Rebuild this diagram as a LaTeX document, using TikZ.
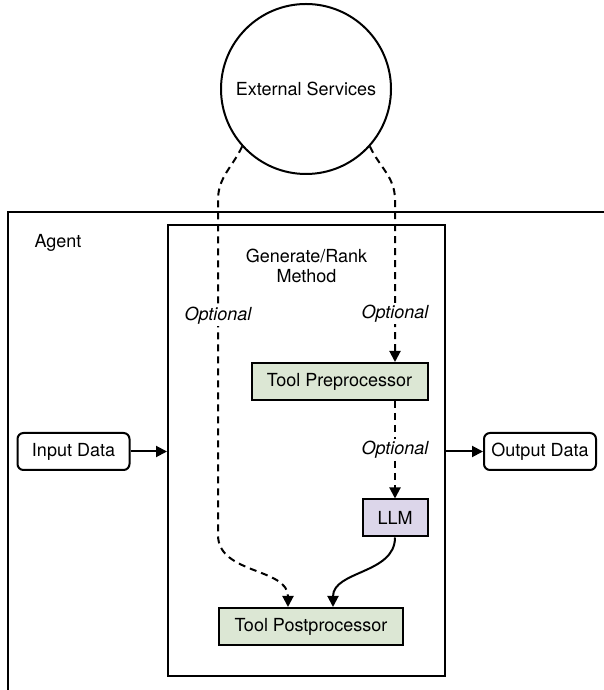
\documentclass[tikz,border=0pt]{standalone}
\usepackage{fontspec}
\setmainfont{TeX Gyre Heros}
\usetikzlibrary{arrows.meta,positioning}
\definecolor{toolgreen}{HTML}{DCE7D4}
\definecolor{llmpurple}{HTML}{DCD6EA}

\begin{document}
\begin{tikzpicture}[x=1pt,y=1pt]
\tikzstyle{main}=[rectangle, draw=black, line width=2pt, minimum height=37pt, inner sep=0pt, font=\fontsize{18}{19.5}\selectfont]
\tikzstyle{tool}=[main, fill=toolgreen]
\tikzstyle{data}=[main, rounded corners=6pt, minimum width=112pt]
\tikzstyle{connect}=[-{Triangle[length=11pt,width=11pt]}, line width=2pt]
\tikzstyle{dconnect}=[connect, dash pattern=on 7pt off 5pt]
\tikzstyle{opt}=[fill=white, inner sep=2pt, font=\fontsize{18}{19.5}\selectfont\itshape]

\useasboundingbox (0,0) rectangle (604,690);
\clip (0,0) rectangle (604,690);

\node[circle, draw=black, line width=2pt, minimum size=170pt, font=\fontsize{18}{19.5}\selectfont] at (306,601) (ext) {External Services};

\draw[line width=2pt] (8,-20) -- (8,478) -- (630,478);
\node[font=\fontsize{18}{19.5}\selectfont] at (58,447) (agent) {Agent};

\node[rectangle, draw=black, line width=2pt, minimum width=277pt, minimum height=451pt] at (306.5,239.5) (method) {};
\node[align=center, font=\fontsize{18}{19.5}\selectfont] at (306.5,424) (methodlabel) {Generate/Rank\\Method};

\node[tool, minimum width=176pt] at (339.5,308.5) (pre) {Tool Preprocessor};
\node[main, fill=llmpurple, minimum width=65pt] at (395,172) (llm) {LLM};
\node[tool, minimum width=184pt] at (311,63.5) (post) {Tool Postprocessor};

\node[data] at (73.5,238.5) (input) {Input Data};
\node[data] at (540,238.5) (output) {Output Data};

\coordinate (lefttop) at (218,490);
\coordinate (leftbot) at (218,155);
\coordinate (righttop) at (395,490);

\path (input.east) edge [connect] (input.east -| method.west);
\path (output.west -| method.east) edge [connect] (output.west);

\draw[dconnect] (ext.222) to[out=245, in=90] (lefttop) -- node[opt, pos=0.345] {Optional} (leftbot) to[out=-90, in=90] ([xshift=-23pt]post.north);
\draw[dconnect] (ext.318) to[out=295, in=90] (righttop) -- node[opt, pos=0.7] {Optional} (pre.north -| llm.north);
\draw[dconnect] (pre.south -| llm.north) -- node[opt] {Optional} (llm.north);
\draw[connect] (llm.south) to[out=-90, in=90] ([xshift=22pt]post.north);
\end{tikzpicture}
\end{document}
